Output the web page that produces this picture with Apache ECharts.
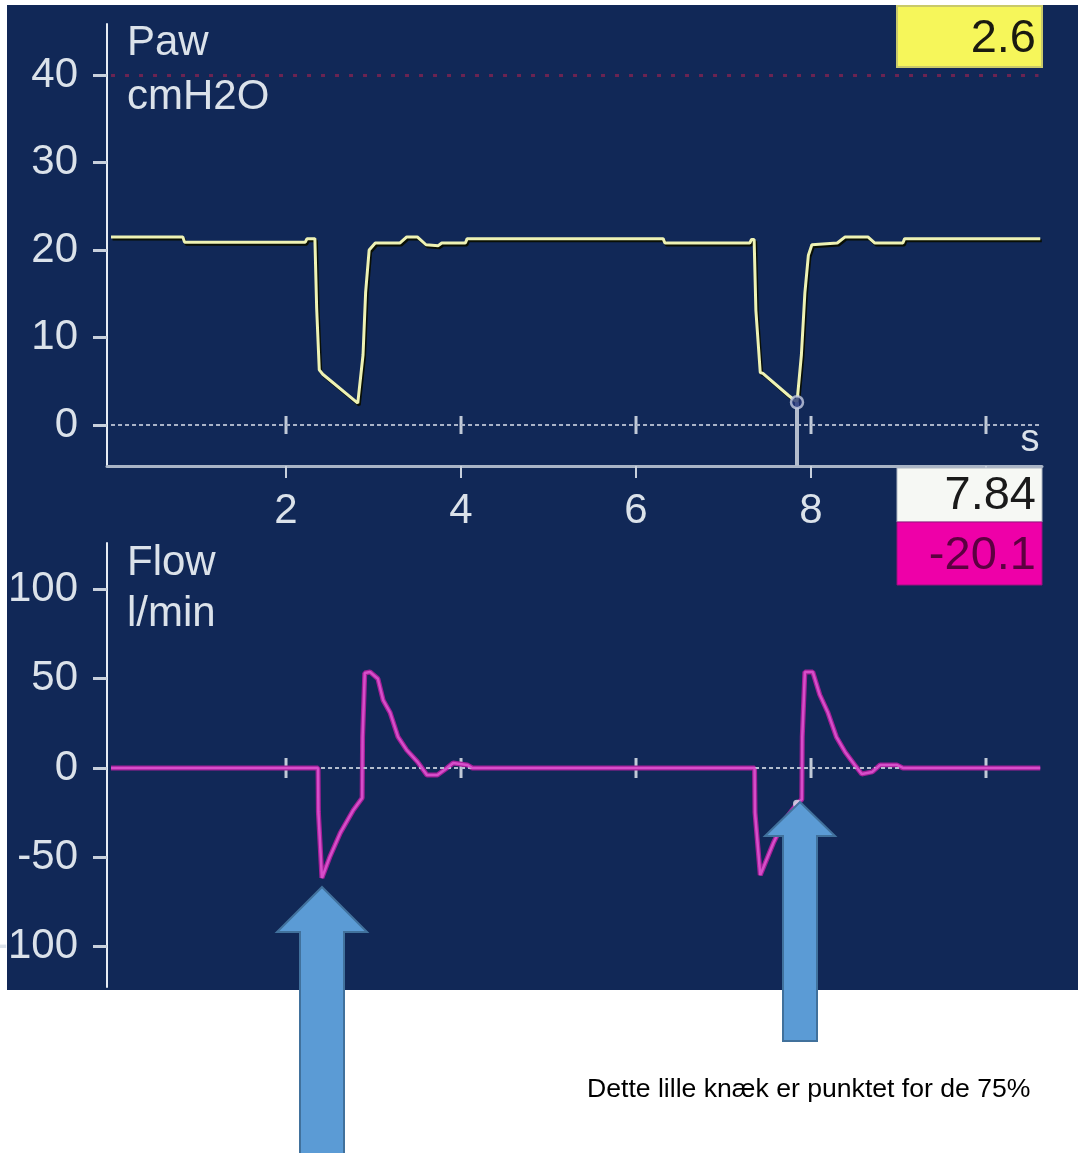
<!DOCTYPE html>
<html>
<head>
<meta charset="utf-8">
<script src="https://cdn.jsdelivr.net/npm/echarts@6/dist/echarts.min.js"></script>
<style>
html,body{margin:0;padding:0;background:#ffffff;}
#chart{width:1078px;height:1153px;}
</style>
</head>
<body>
<div id="chart"></div>
<script>
// ---- data ----
const pawTime  = [0, 0.82, 0.84, 2.22, 2.24, 2.33, 2.35, 2.38, 2.42, 2.82, 2.88, 2.91, 2.95, 3.02, 3.30, 3.38, 3.50, 3.60, 3.74, 3.78, 4.05, 4.07, 6.31, 6.33, 7.30, 7.32, 7.35, 7.37, 7.42, 7.45, 7.74, 7.84, 7.89, 7.93, 7.97, 8.01, 8.30, 8.39, 8.65, 8.73, 9.05, 9.07, 10.62];
const pawValue = [21.5, 21.5, 20.9, 20.9, 21.3, 21.3, 13.4, 6.3, 5.8, 2.5, 8.0, 15.2, 20.0, 20.8, 20.8, 21.5, 21.5, 20.6, 20.5, 20.8, 20.8, 21.3, 21.3, 20.8, 20.8, 21.2, 21.2, 13.1, 6.0, 5.9, 3.4, 2.6, 8.0, 15.1, 19.4, 20.6, 20.8, 21.5, 21.5, 20.8, 20.8, 21.3, 21.3];

const flowTime  = [0, 2.366, 2.37, 2.41, 2.50, 2.62, 2.77, 2.87, 2.875, 2.90, 2.96, 3.05, 3.11, 3.19, 3.28, 3.38, 3.50, 3.61, 3.73, 3.84, 3.91, 4.07, 4.13, 7.355, 7.36, 7.42, 7.57, 7.70, 7.84, 7.895, 7.90, 7.93, 8.02, 8.10, 8.19, 8.29, 8.39, 8.50, 8.58, 8.70, 8.79, 8.98, 9.05, 10.62];
const flowValue = [0, 0, -24.6, -61.6, -49.9, -36.4, -23.5, -16.8, 17.4, 53.2, 53.8, 50.0, 38.0, 31.0, 17.4, 10.0, 3.6, -3.9, -3.9, 0, 2.8, 1.7, 0, 0, -25.0, -60.0, -42.0, -29.0, -20.1, -17.6, 17.4, 53.8, 53.8, 41.0, 31.4, 17.4, 9.0, 1.7, -3.4, -2.2, 1.7, 1.7, 0, 0];

const pawTicks  = [0, 10, 20, 30, 40];
const flowTicks = [-100, -50, 0, 50, 100];
const timeTicks = [2, 4, 6, 8, 10];
const timeLabels = [2, 4, 6, 8];
const pawLimit = 40;
const cursorTime = 7.84;
const cursorPaw = 2.6;
const cursorFlow = -20.1;
const readoutPaw = '2.6';
const readoutTime = '7.84';
const readoutFlow = '-20.1';
const noteText = 'Dette lille knæk er punktet for de 75%';

// ---- chart ----
const chart = echarts.init(document.getElementById('chart'), null, {renderer: 'canvas'});
const FONT = 'Liberation Sans, Arial, sans-serif';
const NAVY = '#112857';
const AXIS_WHITE = '#e6ecf4';
const LABEL = '#dbe2ea';

const pawData = pawTime.map((t, i) => [t, pawValue[i]]);
const flowData = flowTime.map((t, i) => [t, flowValue[i]]);
const tMin = -0.046, tMax = 10.64;

function yAxisCommon(ticks) {
  return {
    type: 'value',
    axisLine: {show: true, onZero: false, lineStyle: {color: AXIS_WHITE, width: 2}},
    axisTick: {show: true, customValues: ticks, length: 14, lineStyle: {color: '#c8d0dc', width: 3}},
    axisLabel: {show: true, customValues: ticks, margin: 29, color: LABEL, fontFamily: FONT, fontSize: 42},
    splitLine: {show: false}
  };
}

const option = {
  backgroundColor: '#ffffff',
  animation: false,
  grid: [
    {left: 107, top: 24, width: 935, height: 442, containLabel: false, outerBoundsMode: 'none'},
    {left: 107, top: 543, width: 935, height: 444, containLabel: false, outerBoundsMode: 'none'}
  ],
  xAxis: [
    {
      type: 'value', gridIndex: 0, min: tMin, max: tMax,
      axisLine: {show: true, onZero: false, lineStyle: {color: '#a9b4c6', width: 3}},
      axisTick: {show: true, customValues: timeTicks, length: 12, lineStyle: {color: '#c8d0dc', width: 2}},
      axisLabel: {show: true, customValues: timeLabels, margin: 24, color: LABEL, fontFamily: FONT, fontSize: 42},
      splitLine: {show: false}
    },
    {
      type: 'value', gridIndex: 1, min: tMin, max: tMax,
      axisLine: {show: false}, axisTick: {show: false}, axisLabel: {show: false}, splitLine: {show: false}
    }
  ],
  yAxis: [
    Object.assign(yAxisCommon(pawTicks), {gridIndex: 0, min: -4.686, max: 45.83}),
    Object.assign(yAxisCommon(flowTicks), {gridIndex: 1, min: -122.7, max: 126.05})
  ],
  series: [
    // Paw helper lines
    {
      type: 'line', xAxisIndex: 0, yAxisIndex: 0, data: [], silent: true,
      markLine: {
        silent: true, symbol: 'none', label: {show: false},
        data: [
          [{coord: [0, pawLimit], lineStyle: {color: '#6b2452', width: 3, type: [4, 10]}}, {coord: [10.6, pawLimit]}],
          [{coord: [0, 0], lineStyle: {color: '#aab4c8', width: 2, type: [4, 3]}}, {coord: [tMax, 0]}]
        ]
      }
    },
    {
      type: 'scatter', xAxisIndex: 0, yAxisIndex: 0, silent: true,
      symbol: 'rect', symbolSize: [3, 18], itemStyle: {color: '#eef2f8'},
      data: timeTicks.map(t => [t, 0]), z: 3
    },
    // Paw trace
    {
      type: 'line', xAxisIndex: 0, yAxisIndex: 0, data: pawData, showSymbol: false, silent: true,
      lineStyle: {color: '#eef2b4', width: 3, shadowColor: 'rgba(10,14,0,0.95)', shadowOffsetX: 1.5, shadowOffsetY: 2, shadowBlur: 0},
      z: 4
    },
    // cursor
    {
      type: 'line', xAxisIndex: 0, yAxisIndex: 0, silent: true,
      data: [[cursorTime, cursorPaw], [cursorTime, -4.686]],
      lineStyle: {color: '#b3bccc', width: 4}, showSymbol: false, z: 5
    },
    {
      type: 'scatter', xAxisIndex: 0, yAxisIndex: 0, silent: true,
      data: [[cursorTime, cursorPaw]], symbol: 'circle', symbolSize: 12,
      itemStyle: {color: '#23357a', borderColor: '#c4cce0', borderWidth: 2.5}, z: 6
    },
    // Flow helper lines
    {
      type: 'line', xAxisIndex: 1, yAxisIndex: 1, data: [], silent: true,
      markLine: {
        silent: true, symbol: 'none', label: {show: false},
        data: [
          [{coord: [0, 0], lineStyle: {color: '#b4bece', width: 2, type: [4, 3]}}, {coord: [10.6, 0]}]
        ]
      }
    },
    {
      type: 'scatter', xAxisIndex: 1, yAxisIndex: 1, silent: true,
      symbol: 'rect', symbolSize: [3, 20], itemStyle: {color: '#eef2f8'},
      data: timeTicks.map(t => [t, 0]), z: 3
    },
    // Flow trace
    {
      type: 'line', xAxisIndex: 1, yAxisIndex: 1, data: flowData, showSymbol: false, silent: true,
      lineStyle: {color: '#a21f98', width: 5}, z: 4
    },
    {
      type: 'line', xAxisIndex: 1, yAxisIndex: 1, data: flowData, showSymbol: false, silent: true,
      lineStyle: {color: '#d64ec9', width: 2.5}, z: 5
    },
    {
      type: 'scatter', xAxisIndex: 1, yAxisIndex: 1, silent: true,
      data: [[cursorTime, cursorFlow]], symbol: 'circle', symbolSize: 8,
      itemStyle: {color: '#e4e6f0'}, z: 6
    }
  ],
  graphic: [
    {type: 'rect', z: -100, silent: true, shape: {x: 7, y: 5, width: 1071, height: 985}, style: {fill: NAVY}},
    // titles
    {type: 'text', z: 50, silent: true, x: 127, y: 43, style: {text: 'Paw', fill: LABEL, font: '42px ' + FONT, textVerticalAlign: 'middle'}},
    {type: 'text', z: 50, silent: true, x: 127, y: 97, style: {text: 'cmH2O', fill: LABEL, font: '42px ' + FONT, textVerticalAlign: 'middle'}},
    {type: 'text', z: 50, silent: true, x: 127, y: 563, style: {text: 'Flow', fill: LABEL, font: '42px ' + FONT, textVerticalAlign: 'middle'}},
    {type: 'text', z: 50, silent: true, x: 127, y: 614, style: {text: 'l/min', fill: LABEL, font: '42px ' + FONT, textVerticalAlign: 'middle'}},
    {type: 'text', z: 50, silent: true, x: 1030, y: 441, style: {text: 's', fill: LABEL, font: '38px ' + FONT, textAlign: 'center', textVerticalAlign: 'middle'}},
    // readout boxes
    {type: 'rect', z: 60, silent: true, shape: {x: 897, y: 6, width: 145, height: 61}, style: {fill: '#f6f65a', stroke: '#c9c96a', lineWidth: 2}},
    {type: 'text', z: 61, silent: true, x: 1036, y: 39, style: {text: readoutPaw, fill: '#1a1a10', font: '47px ' + FONT, textAlign: 'right', textVerticalAlign: 'middle'}},
    {type: 'rect', z: 60, silent: true, shape: {x: 897, y: 468, width: 145, height: 54}, style: {fill: '#f6f8f4', stroke: '#b0b8c4', lineWidth: 1}},
    {type: 'text', z: 61, silent: true, x: 1036, y: 496, style: {text: readoutTime, fill: '#1a1a1a', font: '47px ' + FONT, textAlign: 'right', textVerticalAlign: 'middle'}},
    {type: 'rect', z: 60, silent: true, shape: {x: 897, y: 522, width: 145, height: 63}, style: {fill: '#ee00a8', stroke: '#9a1080', lineWidth: 1}},
    {type: 'text', z: 61, silent: true, x: 1036, y: 556, style: {text: readoutFlow, fill: '#5c0040', font: '47px ' + FONT, textAlign: 'right', textVerticalAlign: 'middle'}},
    // arrows
    {type: 'polygon', z: 80, silent: true, shape: {points: [[322, 887], [367, 932], [344, 932], [344, 1160], [300, 1160], [300, 932], [277, 932]]}, style: {fill: '#5b9bd5', stroke: '#41719c', lineWidth: 2}},
    {type: 'polygon', z: 80, silent: true, shape: {points: [[800, 802], [835, 836], [817, 836], [817, 1041], [783, 1041], [783, 836], [765, 836]]}, style: {fill: '#5b9bd5', stroke: '#41719c', lineWidth: 2}},
    // note
    {type: 'text', z: 50, silent: true, x: 587, y: 1090, style: {text: noteText, fill: '#000000', font: '26.6px ' + FONT, textVerticalAlign: 'middle'}}
  ]
};
chart.setOption(option);
</script>
</body>
</html>
